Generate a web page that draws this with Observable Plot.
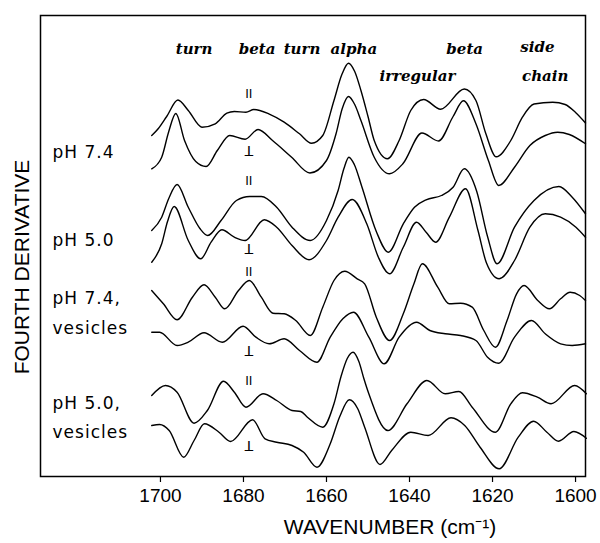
<!DOCTYPE html>
<html><head><meta charset="utf-8">
<script src="https://cdn.jsdelivr.net/npm/d3@7"></script>
<script src="https://cdn.jsdelivr.net/npm/@observablehq/plot@0.6"></script>
<style>
html,body{margin:0;padding:0;background:#fff;}
#chart svg{display:block;}
</style></head><body><div id="chart"></div>
<script>
// x ticks (wavenumber, cm-1)
const xTicks = [1700, 1680, 1660, 1640, 1620, 1600];

// fourth-derivative traces, [wavenumber, value (arbitrary units, offset)]
const ph74Par = [[1702.1,341],[1700.5,348],[1698.5,360],[1695.8,376.5],[1693.3,366],[1690,349.3],[1686.8,352.7],[1684,363.3],[1682.2,365],[1679.4,364.3],[1677.5,367],[1673.9,362.7],[1670.2,354.3],[1666.5,342.7],[1663.6,333.3],[1660.9,341],[1658.2,376],[1656.3,402],[1654.7,413.3],[1653.2,405],[1651.7,386],[1650,360],[1648.5,336],[1645.3,317.7],[1642.5,336],[1639.7,366],[1636.6,377],[1632.5,367.3],[1626.8,387.5],[1624,376],[1621.6,342.7],[1619.1,319.7],[1615.6,336],[1612.8,359.3],[1610,372.5],[1605.5,374.3],[1602.5,372],[1600,364],[1597.6,353.5]];
const ph74Perp = [[1702.1,307.7],[1699.7,319.3],[1698,345],[1696.3,363],[1694.2,336],[1691.5,315],[1689,310],[1686.3,326],[1683.3,341],[1679.6,337.3],[1676.5,347],[1673,336],[1668.4,319.3],[1664,303.5],[1660,316],[1657.7,342.7],[1656.2,368],[1654.7,380],[1653.2,372],[1651.7,356],[1648.5,319.3],[1644.8,302.7],[1641.6,312.7],[1637,343.5],[1633,335.5],[1629.5,360],[1627,375.7],[1624,352.7],[1621,316],[1618.5,291],[1614.7,309.3],[1611,331],[1607.3,341],[1604.3,344.3],[1601.5,342],[1597.6,332.7]];
const ph50Par = [[1702.1,246],[1699.7,259.3],[1698,278],[1696,292],[1693.3,269.3],[1690.5,248],[1688.6,241],[1685.4,256],[1681.7,276],[1678.5,280],[1675.7,280],[1672,269.3],[1668.3,249.3],[1663.9,236],[1660,256],[1657.2,286],[1655.8,308],[1654.6,319.3],[1653.3,312],[1651.5,290],[1648,245],[1645.1,224.3],[1641.5,252.7],[1638.8,269.3],[1636,276.7],[1632.3,281],[1629.5,289.3],[1626.8,307.7],[1623.8,285],[1621.2,240],[1618.9,212.7],[1614.7,249.3],[1610,276],[1604,290],[1600.8,279.3],[1597.6,262.7]];
const ph50Perp = [[1702.1,214.3],[1699.7,232.7],[1698.3,255],[1696.7,270],[1693.3,236],[1690.3,217.7],[1687.8,234.3],[1685.2,246.7],[1682.2,239.3],[1679.6,236],[1675,256.7],[1672,249.3],[1668.3,231],[1664.2,216.7],[1660,236],[1657.2,259.3],[1653.8,277],[1650.3,252.7],[1647.5,219.3],[1644.8,202.7],[1641.5,229.3],[1638.3,254.3],[1636,244.3],[1633.7,234.3],[1630.4,259.3],[1626.5,287.7],[1623.5,246],[1621.5,214],[1618.4,197.7],[1614.7,216],[1611,249.3],[1607.3,262.7],[1603.6,259.3],[1599.9,249.3],[1597.6,239.3]];
const ves74Par = [[1702.1,186],[1699.3,172.7],[1696,156.7],[1692.3,179.3],[1689.5,191.7],[1686.8,179.3],[1684.5,167.7],[1681.2,186],[1678.6,196],[1675.7,179.3],[1672.9,163.3],[1670.2,162.7],[1667.4,156],[1663.9,141],[1660.9,169.3],[1658.2,196],[1655.6,205.3],[1652.6,197.7],[1650.8,192.7],[1648,159.3],[1644.8,136],[1641.5,162.7],[1639,192],[1636.9,212.7],[1633.2,189.3],[1630.4,172.7],[1627.7,173.3],[1624.9,169.3],[1622.1,146],[1619.3,129.3],[1616.5,156],[1614.2,182.7],[1612.4,191],[1609.1,176],[1606.3,167.7],[1603.6,177.7],[1601.3,184.3],[1599,181],[1597.6,176]];
const ves74Perp = [[1702.1,144.3],[1700.2,144.3],[1696,131],[1693.3,134.3],[1689.5,143.7],[1685.1,134.3],[1680.1,150.3],[1677,139.3],[1673.8,132.7],[1670.2,137.7],[1666.5,126],[1662.3,114.3],[1659.1,139.3],[1656,158],[1653.5,164.3],[1649.8,139.3],[1646.1,112.7],[1642.5,139.3],[1638.3,154.3],[1635.1,146],[1631.4,142.7],[1627.7,141],[1624,136],[1621.2,119.3],[1618.5,113.3],[1614.7,139.3],[1610.6,156],[1607.3,142.7],[1603.6,132.7],[1600.8,131],[1597.6,132.7]];
const ves50Par = [[1702.1,81],[1698.8,91],[1696,84.3],[1691.9,53.3],[1688.7,66],[1684.8,95.3],[1682.2,84.3],[1679.4,69.3],[1675.3,82.7],[1672,76],[1668.3,66],[1666.2,65],[1664.6,59.3],[1660.9,49.3],[1658.2,72.7],[1656.5,100],[1655,118],[1653.6,124.3],[1652.2,115],[1651,98],[1649.8,82.7],[1645.2,46],[1640.6,72.7],[1635.8,96],[1631.4,82.7],[1628.1,85],[1624.9,69.3],[1619.3,44.3],[1615.6,72.7],[1612.8,83.7],[1609.2,79.3],[1605.9,72.7],[1600.2,91],[1597.4,82.7]];
const ves50Perp = [[1702.1,51],[1700.2,52],[1697.9,46],[1694.4,19.3],[1691.9,36],[1689.4,52.7],[1685.9,44.3],[1683.1,35],[1677.8,56.7],[1674.8,37.7],[1672,34.3],[1668.3,31],[1665.5,24.3],[1662.3,9.3],[1659.1,32.7],[1656.8,60],[1654.5,76.7],[1652.5,68],[1650.8,49.3],[1647.1,12],[1644.3,26],[1639.7,44.3],[1635.5,41],[1630,58.7],[1626.7,51],[1623,29.3],[1618.4,7.7],[1613.8,39.3],[1610.1,55.3],[1606.9,44.3],[1604.1,35.3],[1600.4,45],[1597.4,38.3]];

// sample labels (left)
const sampleLabels = ["pH 7.4", "pH 5.0", "pH 7.4,", "vesicles", "pH 5.0,", "vesicles"];
const sampleLabelY = [324.3, 236, 177.7, 147.7, 72.7, 44.3];
const sampleLabelWn = 1726;

// band assignment labels (top)
const bandLabels = ["turn", "beta", "turn", "alpha", "irregular", "beta", "side", "chain"];
const bandWn = [1691.9, 1676.7, 1665.9, 1653.4, 1638.1, 1626.7, 1609.2, 1607.3];
const bandY = [427.7, 427.7, 427.7, 427.7, 400, 427.7, 429, 400];

// polarisation marks: parallel (II) and perpendicular (inverted T)
const parMarkY = [382.7, 296, 204.3, 96];
const perpMarkY = [326, 228, 126, 31];
const polWn = 1678.7;

const xDomain = [1728.9, 1597.6];
const yDomain = [0, 461];

const traces = [ph74Par, ph74Perp, ph50Par, ph50Perp, ves74Par, ves74Perp, ves50Par, ves50Perp];
const rows = traces.flatMap((t, id) => t.map(([wn, v]) => ({wn, v, id})));
const sampleRows = sampleLabels.map((t, i) => ({t, wn: sampleLabelWn, v: sampleLabelY[i]}));
const bandRows = bandLabels.map((t, i) => ({t, wn: bandWn[i], v: bandY[i]}));
const parRows = parMarkY.map(v => ({wn: polWn, v}));
const perpRows = perpMarkY.map(v => ({wn: polWn, v}));

const chart = Plot.plot({
  width: 600, height: 543,
  marginLeft: 40, marginRight: 15, marginTop: 15, marginBottom: 67,
  x: {domain: xDomain},
  y: {domain: yDomain, axis: null},
  style: {fontFamily: "'Liberation Sans', Arial, sans-serif", fontSize: "19px", color: "#000", background: "#fff"},
  marks: [
    Plot.frame({stroke: "#000", strokeWidth: 1.5}),
    Plot.axisX({ticks: xTicks, tickSize: 6, tickPadding: 6, tickFormat: d => String(d), label: null, fontSize: 19, stroke: "#000", strokeWidth: 1.2}),
    Plot.line(rows, {x: "wn", y: "v", z: "id", curve: "monotone-x", stroke: "#000", strokeWidth: 1.4}),
    Plot.text(sampleRows, {x: "wn", y: "v", text: "t", textAnchor: "start", fontFamily: "'DejaVu Sans', sans-serif", fontSize: 17, fill: "#000"}),
    Plot.text(bandRows, {x: "wn", y: "v", text: "t", fontFamily: "'DejaVu Serif', serif", fontStyle: "italic", fontWeight: "bold", fontSize: 15, fill: "#000"}),
    Plot.text(parRows, {x: "wn", y: "v", text: () => "II", fontFamily: "'Liberation Sans', sans-serif", fontSize: 13, fill: "#000"}),
    Plot.text(perpRows, {x: "wn", y: "v", text: () => "T", rotate: 180, fontFamily: "'Liberation Sans', sans-serif", fontSize: 15, fill: "#000"}),
    Plot.text(["WAVENUMBER (cm\u207B\u00B9)"], {frameAnchor: "bottom", dx: 77, dy: 57, fontSize: 21, fill: "#000"}),
    Plot.text(["FOURTH DERIVATIVE"], {frameAnchor: "left", textAnchor: "middle", dx: -18, dy: 21, rotate: -90, fontSize: 21, fill: "#000"})
  ]
});
d3.select(chart).selectAll('g[font-size="17"] text').attr("letter-spacing", "1px");
document.getElementById("chart").appendChild(chart);
</script>
</body></html>
